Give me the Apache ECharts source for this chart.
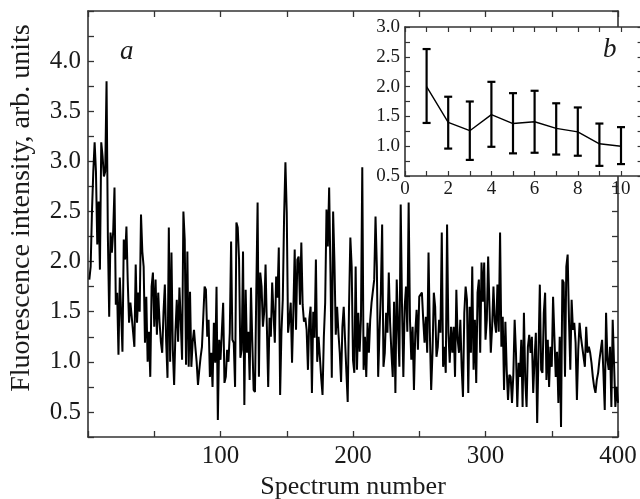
<!DOCTYPE html>
<html><head><meta charset="utf-8">
<script src="https://cdn.jsdelivr.net/npm/echarts@6/dist/echarts.min.js"></script>
<style>html,body{margin:0;padding:0;background:#fff}#c{width:640px;height:499px}</style>
</head><body><div id="c"></div>
<script>
// Main panel (a): fluorescence intensity per spectrum number 1..400
const intensity = [
1.82,1.95,2.5,2.9,3.19,2.9,2.17,2.6,1.92,3.19,
3.05,2.85,2.9,3.80,2.25,1.45,2.29,2.09,2.3,2.74,
1.57,1.69,1.07,1.84,1.5,1.10,2.22,2.02,2.35,1.8,
1.39,1.59,1.45,1.3,1.15,1.97,1.39,1.69,1.5,2.47,
2.1,1.95,1.19,1.65,1.00,1.3,0.85,1.75,1.89,1.35,
1.82,1.27,1.69,1.4,1.2,1.09,1.5,1.77,1.2,0.84,
2.34,1.00,2.09,1.12,0.77,1.3,1.62,1.20,1.74,
1.4,1.02,2.50,2.22,0.97,2.10,0.95,1.70,0.95,1.2,
1.32,1.15,1.0,0.77,0.92,1.05,1.15,1.45,1.75,1.72,
1.25,1.42,0.85,1.09,0.75,1.39,0.99,1.75,0.42,1.22,
1.02,1.3,1.59,0.79,0.85,1.12,1.0,1.29,2.20,1.22,
1.19,0.75,2.39,2.34,2.02,1.04,1.12,2.10,0.57,1.72,
1.09,1.3,0.82,1.74,1.2,0.72,0.70,1.69,2.59,0.85,
1.89,1.75,1.35,1.5,1.97,1.35,0.75,1.44,
1.25,1.79,1.49,1.19,1.85,1.64,2.14,0.67,1.3,1.62,
2.45,2.99,2.49,1.29,1.42,1.59,0.99,1.52,2.12,1.32,
2.02,2.05,1.57,2.19,1.57,1.40,1.44,1.32,0.92,1.42,
1.55,0.69,1.50,1.24,2.02,1.00,1.25,1.05,0.84,0.67,
1.25,1.59,2.52,2.15,2.74,1.89,0.84,2.50,1.99,1.27,
1.55,1.29,1.09,0.80,1.35,1.55,1.22,0.9,0.60,1.55,
2.24,1.95,1.02,0.89,1.95,0.92,1.49,
1.1,1.42,2.94,0.92,1.25,0.85,1.39,1.09,1.42,1.59,
1.60,1.82,2.45,1.95,0.85,1.29,1.69,2.37,0.95,1.09,
1.49,1.29,1.89,1.39,1.09,0.85,1.60,0.69,1.82,1.35,
0.95,2.57,1.55,0.85,1.55,1.75,1.3,2.59,1.42,1.02,
1.35,0.72,1.29,1.52,1.12,1.65,1.64,1.69,1.42,1.19,
1.45,1.09,2.09,1.29,0.72,1.09,1.69,1.55,1.05,1.15,
1.42,1.29,2.29,0.95,1.15,0.89,2.37,
1.29,0.99,1.35,1.09,1.35,0.85,1.72,1.22,1.09,1.42,
0.95,0.65,1.49,1.75,1.62,0.69,1.55,1.09,1.95,0.92,
1.42,0.79,1.69,1.82,1.09,1.99,1.6,1.99,1.22,1.42,
2.05,1.55,1.09,1.35,1.75,1.4,1.29,1.77,1.3,2.29,
1.15,1.45,0.72,1.40,0.92,0.62,0.87,0.85,0.59,0.87,
1.42,1.09,0.55,0.99,0.85,1.22,0.55,1.49,0.82,0.55,
1.15,1.27,1.09,1.25,0.69,1.02,1.29,0.39,1.09,1.77,
0.92,0.89,1.49,1.69,0.82,1.22,0.75,1.15,0.95,1.65,
1.65,0.85,1.1,0.59,1.25,0.35,1.82,1.79,0.85,1.95,
2.07,1.42,0.92,1.62,1.32,1.39,1.19,0.62,1.12,1.39,
1.25,1.15,1.05,0.95,1.35,1.09,1.15,1.09,0.99,0.85,
0.75,0.69,0.82,0.89,1.02,1.12,1.22,0.89,0.52,1.49,
1.02,0.92,1.15,0.55,1.42,0.99,0.55,0.75,0.59
];
// Inset (b): averages with error bars
const insetGroup = [1,2,3,4,5,6,7,8,9,10];
const insetMean  = [2.00,1.40,1.26,1.53,1.38,1.41,1.30,1.24,1.04,1.00];
const insetLow   = [1.39,0.96,0.77,0.99,0.88,0.89,0.86,0.84,0.67,0.70];
const insetHigh  = [2.63,1.83,1.75,2.08,1.89,1.93,1.72,1.65,1.38,1.32];
// Tick labels
const mainXTicks = [100,200,300,400];
const mainYTicks = [0.5,1.0,1.5,2.0,2.5,3.0,3.5,4.0];
const insetXTicks = [0,2,4,6,8,10];
const insetYTicks = [0.5,1.0,1.5,2.0,2.5,3.0];
const xTitle = 'Spectrum number';
const yTitle = 'Fluorescence intensity, arb. units';

const FONT = 'Liberation Serif';
const TXT = '#1a1a1a';
const AX = '#333';
const r2 = v => Math.round(v*100)/100;

function makeAxis(o){
  return Object.assign({
    type:'value',
    axisLine:{show:true,onZero:false,lineStyle:{color:AX,width:1.6}},
    axisTick:{show:true,inside:true,length:6,lineStyle:{color:AX,width:1.3}},
    splitLine:{show:false},
    axisLabel:{show:false}
  }, o);
}

const chart = echarts.init(document.getElementById('c'), null, {renderer:'canvas'});
chart.setOption({
  animation:false,
  backgroundColor:'#fff',
  grid:[
    {left:88, top:11, width:530, height:426, show:false, containLabel:false, outerBoundsMode:'none'},
    {left:405, top:27, width:237.6, height:149, show:true, backgroundColor:'#fff', borderWidth:0, zlevel:1, containLabel:false, outerBoundsMode:'none'}
  ],
  xAxis:[
    makeAxis({gridIndex:0, position:'bottom', min:0, max:400, interval:50,
      axisLabel:{show:true, margin:7, fontFamily:FONT, fontSize:25, color:TXT,
        formatter:v=>mainXTicks.includes(r2(v))?String(v):''},
      name:xTitle, nameLocation:'middle', nameGap:36,
      nameTextStyle:{fontFamily:FONT, fontSize:26, color:TXT}}),
    makeAxis({gridIndex:0, position:'top', min:0, max:400, interval:50}),
    makeAxis({gridIndex:1, position:'bottom', min:0, max:11, interval:1, zlevel:1,
      axisTick:{show:true,inside:true,length:5,lineStyle:{color:AX,width:1.2}},
      axisLabel:{show:true, margin:4, fontFamily:FONT, fontSize:19, color:TXT,
        formatter:v=>insetXTicks.includes(r2(v))?String(v):''}}),
    makeAxis({gridIndex:1, position:'top', min:0, max:11, interval:1, zlevel:1,
      axisTick:{show:true,inside:true,length:5,lineStyle:{color:AX,width:1.2}}})
  ],
  yAxis:[
    makeAxis({gridIndex:0, position:'left', min:0.25, max:4.5, interval:0.25,
      axisLabel:{show:true, margin:7, fontFamily:FONT, fontSize:25, color:TXT,
        formatter:v=>mainYTicks.includes(r2(v))?r2(v).toFixed(1):''}}),
    makeAxis({gridIndex:0, position:'right', min:0.25, max:4.5, interval:0.25}),
    makeAxis({gridIndex:1, position:'left', min:0.5, max:3.0, interval:0.25, zlevel:1,
      axisTick:{show:true,inside:true,length:5,lineStyle:{color:AX,width:1.2}},
      axisLabel:{show:true, margin:5, fontFamily:FONT, fontSize:19, color:TXT,
        formatter:v=>insetYTicks.includes(r2(v))?r2(v).toFixed(1):''}}),
    makeAxis({gridIndex:1, position:'right', min:0.5, max:3.0, interval:0.25, zlevel:1,
      axisTick:{show:true,inside:true,length:5,lineStyle:{color:AX,width:1.2}}})
  ],
  series:[
    {type:'line', xAxisIndex:0, yAxisIndex:0, data:intensity.map((v,i)=>[i+1,v]),
      symbol:'none', lineStyle:{color:'#000', width:2}, clip:true},
    {type:'line', xAxisIndex:2, yAxisIndex:2, zlevel:1, z:5,
      data:insetGroup.map((g,i)=>[g,insetMean[i]]),
      symbol:'none', lineStyle:{color:'#000', width:1.4}},
    {type:'custom', xAxisIndex:2, yAxisIndex:2, zlevel:1, z:6,
      data:insetGroup.map((g,i)=>[g,insetLow[i],insetHigh[i]]),
      encode:{x:0, y:[1,2]},
      renderItem:function(params, api){
        const x = api.value(0);
        const pHi = api.coord([x, api.value(2)]);
        const pLo = api.coord([x, api.value(1)]);
        const hw = 4;
        const st = {stroke:'#000', lineWidth:2.2};
        return {type:'group', children:[
          {type:'line', shape:{x1:pHi[0],y1:pHi[1],x2:pLo[0],y2:pLo[1]}, style:st},
          {type:'line', shape:{x1:pHi[0]-hw,y1:pHi[1],x2:pHi[0]+hw,y2:pHi[1]}, style:st},
          {type:'line', shape:{x1:pLo[0]-hw,y1:pLo[1],x2:pLo[0]+hw,y2:pLo[1]}, style:st}
        ]};
      }}
  ],
  graphic:[
    {type:'text', x:22, y:208, rotation:Math.PI/2, zlevel:2,
      style:{text:yTitle, font:'28px "Liberation Serif"', fill:TXT, align:'center', verticalAlign:'middle'}},
    {type:'text', left:120, top:38, zlevel:2, style:{text:'a', font:'italic 27px "Liberation Serif"', fill:TXT}},
    {type:'text', left:603, top:36, zlevel:2, style:{text:'b', font:'italic 27px "Liberation Serif"', fill:TXT}}
  ]
});
</script>
</body></html>
